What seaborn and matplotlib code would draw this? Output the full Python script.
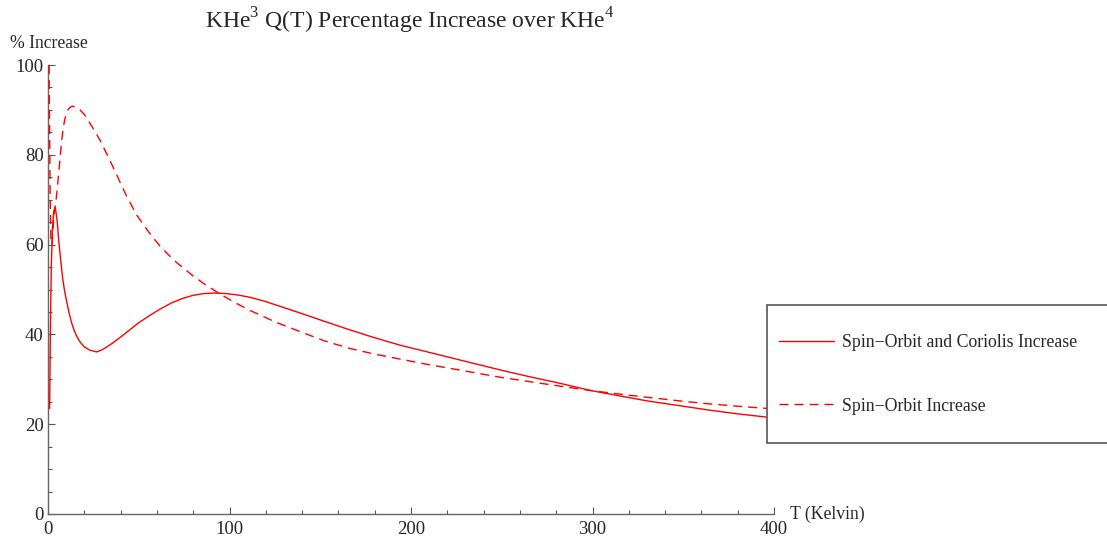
import numpy as np
import pandas as pd
import matplotlib
matplotlib.use("Agg")
import matplotlib.pyplot as plt
import matplotlib.patches as mpatches
from matplotlib.ticker import MultipleLocator
import seaborn as sns

# Spin-Orbit and Coriolis increase (solid)
t_soc = [0.9, 1.3, 1.8, 2.5, 3.2, 4.0, 5.0, 6.0, 7.0, 8.0, 9.0, 10.3, 11.5, 13, 14.5,
         15.8, 17.5, 20, 23, 26.8, 30, 35, 40, 45, 50, 56, 62, 68, 74, 80, 86, 92, 98,
         105, 112, 120, 129, 139, 152, 166, 180, 194, 208, 222, 236, 250, 265, 280, 299,
         315, 330, 350, 365, 380, 400]
pct_soc = [23.5, 40, 55, 64, 67.5, 68.3, 65.5, 60.5, 56.5, 52.8, 50, 47.3, 45, 42.6, 40.8,
           39.6, 38.4, 37.2, 36.5, 36.1, 36.6, 37.9, 39.4, 41.0, 42.6, 44.2, 45.7, 47.0,
           48.0, 48.7, 49.1, 49.2, 49.1, 48.75, 48.2, 47.3, 46.1, 44.75, 42.95, 41.05,
           39.25, 37.6, 36.2, 34.8, 33.4, 32.0, 30.6, 29.3, 27.5, 26.3, 25.2, 24.0, 23.1,
           22.3, 21.4]

# Spin-Orbit increase (dashed)
t_so = [0.6, 0.9, 1.2, 1.6, 2.2, 3.3, 4.5, 5.7, 6.6, 7.5, 8.4, 9.2, 10, 11, 12, 13, 14,
        15.5, 17.6, 20, 22, 25, 28.6, 32, 35, 39, 43.4, 49, 55.3, 62, 70, 80, 87, 94,
        102, 111, 125, 139, 152, 166, 180, 194, 208, 222, 236, 250, 265, 280, 299, 315,
        330, 350, 365, 380, 400]
pct_so = [100, 85, 70, 61, 60, 66.6, 70, 75, 79, 83, 86, 87.8, 89, 90, 90.5, 90.8, 90.8,
          90.6, 90, 89, 87.7, 85.8, 83.3, 80.5, 78, 74.5, 70.7, 66.5, 62.9, 59.5, 56.3,
          53, 51, 49.2, 47.3, 45.4, 42.8, 40.6, 38.6, 36.9, 35.6, 34.5, 33.4, 32.4, 31.4,
          30.4, 29.5, 28.6, 27.5, 26.7, 26.0, 25.1, 24.5, 24.0, 23.4]

labels = ["Spin\u2212Orbit and Coriolis Increase", "Spin\u2212Orbit Increase"]

sns.set_theme(style="white")
plt.rcParams["font.family"] = ["Liberation Serif", "DejaVu Serif"]
plt.rcParams["mathtext.fontset"] = "custom"
plt.rcParams["mathtext.rm"] = "Liberation Serif"

fig = plt.figure(figsize=(11.07, 5.37), dpi=100)
ax = fig.add_axes([48 / 1107, 23 / 537, 726 / 1107, 449 / 537])

sns.lineplot(x=t_soc, y=pct_soc, ax=ax, color="red", lw=1.0, label=labels[0], zorder=3)
sns.lineplot(x=t_so, y=pct_so, ax=ax, color="red", lw=1.0, label=labels[1], zorder=3)
ax.lines[1].set_dashes((6.5, 4.3))

ax.set_xlim(0, 400)
ax.set_ylim(0, 100)
ax.xaxis.set_major_locator(MultipleLocator(100))
ax.xaxis.set_minor_locator(MultipleLocator(20))
ax.yaxis.set_major_locator(MultipleLocator(20))
ax.yaxis.set_minor_locator(MultipleLocator(5))
ax.tick_params(which="both", direction="in", color="#555555", width=0.8,
               labelsize=13.5, bottom=True, left=True)
ax.tick_params(axis="x", pad=5)
ax.tick_params(axis="y", pad=3)
ax.tick_params(which="major", length=5)
ax.tick_params(which="minor", length=3)
for s in ["top", "right"]:
    ax.spines[s].set_visible(False)
for s in ["left", "bottom"]:
    ax.spines[s].set_color("#666666")
    ax.spines[s].set_linewidth(1.0)
ax.set_xlabel("")
ax.set_ylabel("")
ax.patch.set_alpha(0)

fig.text(410 / 1107, 1 - 21 / 537, r"KHe$^3$ Q(T) Percentage Increase over KHe$^4$",
         ha="center", va="center", fontsize=17)
fig.text(10 / 1107, 1 - 43 / 537, "% Increase", ha="left", va="center", fontsize=12.7)
fig.text(790 / 1107, 1 - 514 / 537, "T (Kelvin)", ha="left", va="center", fontsize=12.7)

# legend box running off the right edge
box = mpatches.Rectangle((767 / 1107, 94 / 537), 0.35, 138 / 537,
                         transform=fig.transFigure, facecolor="white",
                         edgecolor="#555555", lw=1.2, zorder=4, clip_on=False)
ax.add_artist(box)
leg = ax.legend(loc="center left", bbox_to_anchor=(763 / 1107, 1 - 374.5 / 537),
                bbox_transform=fig.transFigure, frameon=False, fontsize=12.8,
                handlelength=3.1, handletextpad=0.45, labelspacing=2.6)
leg.set_zorder(5)

fig.savefig("out.png", dpi=100)
